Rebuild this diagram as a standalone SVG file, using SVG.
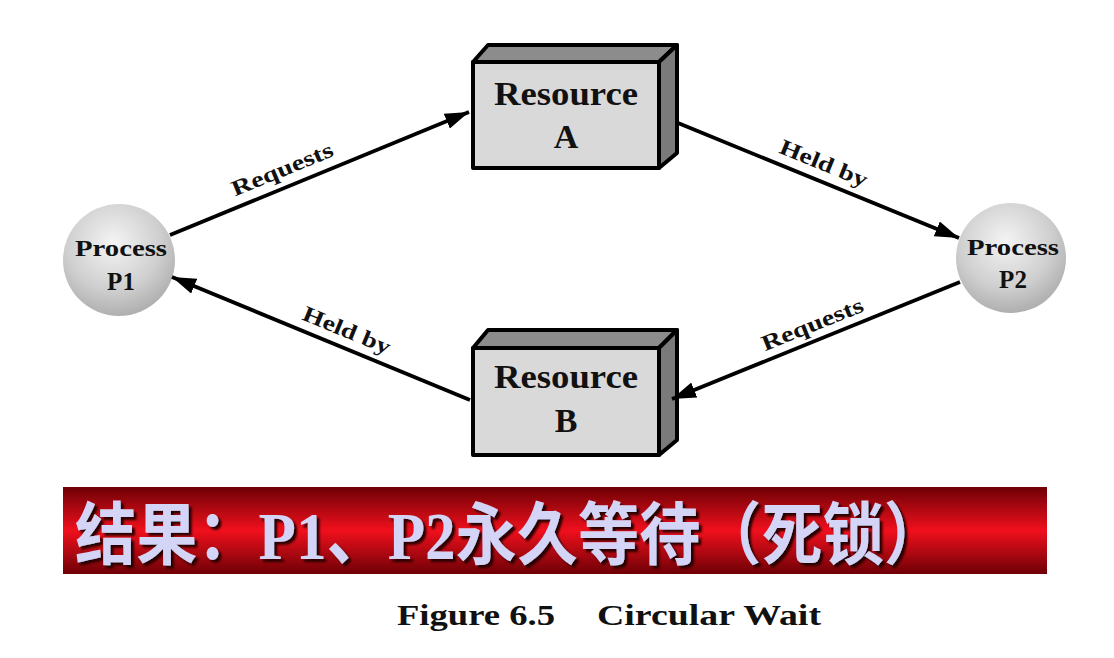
<svg xmlns="http://www.w3.org/2000/svg" width="1114" height="658" viewBox="0 0 1114 658">
<defs>
<radialGradient id="sph" cx="0.45" cy="0.35" r="0.7">
<stop offset="0" stop-color="#f4f4f4"/>
<stop offset="0.6" stop-color="#cfcfcf"/>
<stop offset="1" stop-color="#a8a8a8"/>
</radialGradient>
<linearGradient id="ban" x1="0" y1="0" x2="0" y2="1">
<stop offset="0" stop-color="#6e0006"/>
<stop offset="0.5" stop-color="#f0101c"/>
<stop offset="1" stop-color="#6e0006"/>
</linearGradient>
<filter id="shadow" x="-5%" y="-20%" width="110%" height="140%">
<feDropShadow dx="3" dy="3" stdDeviation="0.8" flood-color="#2a0000" flood-opacity="1"/>
</filter>
<marker id="ah" viewBox="0 0 24 16" refX="24" refY="8" markerWidth="24" markerHeight="16" markerUnits="userSpaceOnUse" orient="auto">
<path d="M0,0 L24,8 L0,16 Z" fill="#000"/>
</marker>
</defs>
<style>
.lbl{font-family:"Liberation Serif",serif;font-weight:bold;fill:#111;}
.front{fill:#d9d9d9;stroke:#000;stroke-width:4;stroke-linejoin:round;}
.top{fill:#8c8c8c;stroke:#000;stroke-width:4;stroke-linejoin:round;}
.side{fill:#7a7a7a;stroke:#000;stroke-width:4;stroke-linejoin:round;}
.conn{stroke:#000;stroke-width:3.8;fill:none;marker-end:url(#ah);}
</style>
<rect width="1114" height="658" fill="#fff"/>

<g id="resourceA">
<polygon class="top" points="473,62 488,45 677,45 659,62"/>
<polygon class="side" points="659,62 677,45 677,153 659,168"/>
<rect class="front" x="473" y="62" width="186" height="106"/>
<text class="lbl" x="566" y="105" font-size="34" text-anchor="middle" textLength="144" lengthAdjust="spacingAndGlyphs">Resource</text>
<text class="lbl" x="566" y="148" font-size="34" text-anchor="middle">A</text>
</g>

<g id="resourceB">
<polygon class="top" points="473,348 488,330 677,330 659,348"/>
<polygon class="side" points="659,348 677,330 677,440 659,455"/>
<rect class="front" x="473" y="348" width="186" height="107"/>
<text class="lbl" x="566" y="388" font-size="34" text-anchor="middle" textLength="144" lengthAdjust="spacingAndGlyphs">Resource</text>
<text class="lbl" x="566" y="432" font-size="34" text-anchor="middle">B</text>
</g>

<g id="p1">
<circle cx="119" cy="260" r="56" fill="url(#sph)"/>
<text class="lbl" x="121" y="256" font-size="24" text-anchor="middle" textLength="92" lengthAdjust="spacingAndGlyphs">Process</text>
<text class="lbl" x="121" y="290" font-size="25" text-anchor="middle">P1</text>
</g>

<g id="p2">
<circle cx="1011" cy="258" r="55" fill="url(#sph)"/>
<text class="lbl" x="1013" y="255" font-size="24" text-anchor="middle" textLength="92" lengthAdjust="spacingAndGlyphs">Process</text>
<text class="lbl" x="1013" y="288" font-size="25" text-anchor="middle">P2</text>
</g>

<g id="connectors">
<line class="conn" x1="170" y1="235" x2="469" y2="112"/>
<line class="conn" x1="678" y1="123" x2="959" y2="238"/>
<line class="conn" x1="960" y1="282" x2="672" y2="399"/>
<line class="conn" x1="470" y1="400" x2="172" y2="277"/>
<text class="lbl" font-size="22" text-anchor="middle" textLength="108" lengthAdjust="spacingAndGlyphs" transform="translate(285,176) rotate(-22.4)">Requests</text>
<text class="lbl" font-size="22" text-anchor="middle" textLength="93" lengthAdjust="spacingAndGlyphs" transform="translate(821,170) rotate(22.2)">Held by</text>
<text class="lbl" font-size="22" text-anchor="middle" textLength="108" lengthAdjust="spacingAndGlyphs" transform="translate(815,331) rotate(-22)">Requests</text>
<text class="lbl" font-size="22" text-anchor="middle" textLength="93" lengthAdjust="spacingAndGlyphs" transform="translate(344,337) rotate(22.3)">Held by</text>
</g>

<g id="banner">
<rect x="63" y="487" width="984" height="87" fill="url(#ban)"/>
<text x="75" y="559" font-family="'Liberation Serif','Noto Sans CJK SC',serif" font-weight="bold" font-size="68" fill="#d4d4f6" filter="url(#shadow)" textLength="870" lengthAdjust="spacingAndGlyphs">结果：P1、P2永久等待（死锁）</text>
</g>

<g id="caption">
<text class="lbl" x="397" y="625" font-size="30" textLength="158" lengthAdjust="spacingAndGlyphs">Figure 6.5</text>
<text class="lbl" x="597" y="625" font-size="30" textLength="224" lengthAdjust="spacingAndGlyphs">Circular Wait</text>
</g>
</svg>
